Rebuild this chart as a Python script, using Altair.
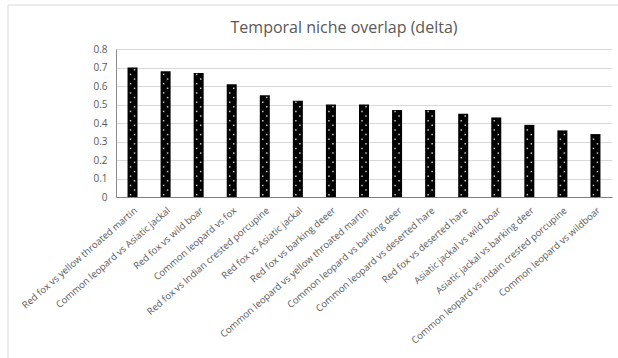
import altair as alt
import pandas as pd

# Species pairs and their temporal overlap coefficients (delta)
pairs = [
    "Red fox vs yellow throated martin",
    "Common leopard vs Asiatic jackal",
    "Red fox vs wild boar",
    "Common leopard vs fox",
    "Red fox vs Indian crested porcupine",
    "Red fox vs Asiatic jackal",
    "Red fox vs barking deeer",
    "Common leopard vs yellow throated martin",
    "Common leopard vs barking deer",
    "Common leopard vs deserted hare",
    "Red fox vs deserted hare",
    "Asiatic jackal vs wild boar",
    "Asiatic jackal vs barking deer",
    "Common leopard vs indain crested porcupine",
    "Common leopard vs wildboar",
]
delta = [0.70, 0.68, 0.67, 0.61, 0.55, 0.52, 0.50, 0.50, 0.47, 0.47, 0.45, 0.43, 0.39, 0.36, 0.34]
y_ticks = [0, 0.1, 0.2, 0.3, 0.4, 0.5, 0.6, 0.7, 0.8]
title_text = "Temporal niche overlap (delta)"

df = pd.DataFrame({"pair": pairs, "delta": delta})

FONT = "Open Sans"
GREY = "#595959"

x_axis = alt.Axis(
    labelAngle=-41,
    labelFont=FONT,
    labelFontSize=9.5,
    labelColor=GREY,
    labelLimit=400,
    ticks=False,
    labelPadding=8,
    domainColor="#7f7f7f",
    domainWidth=1.2,
)
y_axis = alt.Axis(
    values=y_ticks,
    format="~g",
    labelFont=FONT,
    labelFontSize=10,
    labelColor=GREY,
    labelOverlap=False,
    ticks=False,
    labelPadding=9,
    gridColor="#d9d9d9",
    domainColor="#8c8c8c",
)
x_scale = alt.Scale(paddingInner=0, paddingOuter=0)
y_scale = alt.Scale(domain=[0, 0.8])

bars = alt.Chart(df).mark_bar(size=10, color="black").encode(
    x=alt.X("pair:N", sort=pairs, title=None, scale=x_scale, axis=x_axis),
    y=alt.Y("delta:Q", title=None, scale=y_scale, axis=y_axis),
)

# Dotted fill: a light dot every 0.025 up each bar, alternating sides
dots_base = (
    alt.Chart(df)
    .transform_calculate(d="sequence(0.0125, datum.delta - 0.006, 0.025)")
    .transform_flatten(["d"])
    .transform_calculate(k="round((datum.d - 0.0125) / 0.025) % 2")
)
dot_style = dict(shape="square", size=2.2, color="#c8c8c8", opacity=1, filled=True)
dot_x = alt.X("pair:N", sort=pairs, title=None, scale=x_scale, axis=x_axis)
dot_y = alt.Y("d:Q", title=None, scale=y_scale, axis=y_axis)
dots_left = dots_base.transform_filter("datum.k == 0").mark_point(xOffset=-2, **dot_style).encode(
    x=dot_x, y=dot_y
)
dots_right = dots_base.transform_filter("datum.k == 1").mark_point(xOffset=2, **dot_style).encode(
    x=dot_x, y=dot_y
)

# Chart-area frame (top and left edges) and the heading
one_row = alt.Data(values=[{"f": 1}])
frame_top = alt.Chart(one_row).mark_rule(color="#d9d9d9", strokeWidth=1).encode(
    x=alt.value(-108), x2=alt.value(502), y=alt.value(-44)
)
frame_left = alt.Chart(one_row).mark_rule(color="#d9d9d9", strokeWidth=1).encode(
    x=alt.value(-108), y=alt.value(-44), y2=alt.value(309)
)
heading = alt.Chart(one_row).mark_text(
    font=FONT, fontSize=16, color=GREY, align="center", baseline="alphabetic"
).encode(x=alt.value(228), y=alt.value(-16), text=alt.value(title_text))

chart = (
    alt.layer(bars, dots_left, dots_right, frame_top, frame_left, heading)
    .properties(
        width=496,
        height=148,
        autosize=alt.AutoSizeParams(type="none"),
        padding={"left": 116, "top": 49, "right": 6, "bottom": 161},
        background="white",
    )
    .configure_view(stroke=None)
)

chart.save("out.html", embed_options={"renderer": "svg", "actions": False})
